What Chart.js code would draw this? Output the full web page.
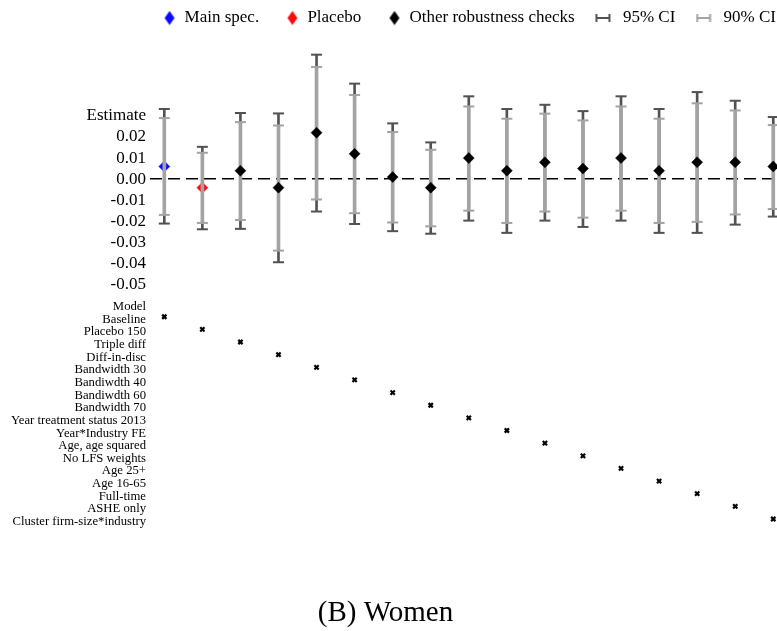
<!DOCTYPE html>
<html>
<head>
<meta charset="utf-8">
<title>(B) Women</title>
<script src="https://cdn.jsdelivr.net/npm/chart.js@4.4.1/dist/chart.umd.min.js"></script>
<style>
  html, body { margin: 0; padding: 0; background: #ffffff; }
  #wrap { position: relative; width: 777px; height: 631px; overflow: hidden; background: #ffffff; }
  #estimates { position: absolute; left: 0; top: 0; width: 777px; height: 309px; }
  #models { position: absolute; left: 0; top: 290px; width: 777px; height: 341px; }
</style>
</head>
<body>
<div id="wrap">
  <canvas id="estimates" width="777" height="309"></canvas>
  <canvas id="models" width="777" height="341"></canvas>
</div>
<script>
// ---- data -------------------------------------------------------------
const rowLabels = [
  'Model', 'Baseline', 'Placebo 150', 'Triple diff', 'Diff-in-disc',
  'Bandwidth 30', 'Bandiwdth 40', 'Bandiwdth 60', 'Bandwidth 70',
  'Year treatment status 2013', 'Year*Industry FE', 'Age, age squared',
  'No LFS weights', 'Age 25+', 'Age 16-65', 'Full-time', 'ASHE only',
  'Cluster firm-size*industry'
];
// which row of the model matrix each specification ticks
const specRows = [1, 2, 3, 4, 5, 6, 7, 8, 9, 10, 11, 12, 13, 14, 15, 16, 17];
const specTypes = ['main', 'placebo', 'other', 'other', 'other', 'other', 'other', 'other',
                   'other', 'other', 'other', 'other', 'other', 'other', 'other', 'other', 'other'];

const estimates = [0.006, -0.004, 0.004, -0.004, 0.022, 0.012, 0.001, -0.004,
                   0.010, 0.004, 0.008, 0.005, 0.010, 0.004, 0.008, 0.008, 0.006];
const ci95Low  = [-0.0210, -0.0237, -0.0235, -0.0393, -0.0153, -0.0212, -0.0246, -0.0258,
                  -0.0196, -0.0254, -0.0196, -0.0226, -0.0196, -0.0254, -0.0254, -0.0215, -0.0177];
const ci95High = [0.0332, 0.0153, 0.0313, 0.0311, 0.0589, 0.0452, 0.0264, 0.0174,
                  0.0392, 0.0332, 0.0352, 0.0322, 0.0392, 0.0332, 0.0412, 0.0371, 0.0294];
const ci90Low  = [-0.0169, -0.0207, -0.0193, -0.0338, -0.0096, -0.0161, -0.0205, -0.0223,
                  -0.0149, -0.0207, -0.0153, -0.0182, -0.0149, -0.0207, -0.0202, -0.0167, -0.0141];
const ci90High = [0.0289, 0.0125, 0.0270, 0.0254, 0.0531, 0.0398, 0.0223, 0.0139,
                  0.0344, 0.0286, 0.0310, 0.0278, 0.0344, 0.0286, 0.0359, 0.0325, 0.0256];

const yTickValues = [-0.05, -0.04, -0.03, -0.02, -0.01, 0, 0.01, 0.02, 0.03];
const yTickLabels = ['-0.05', '-0.04', '-0.03', '-0.02', '-0.01', '0.00', '0.01', '0.02', 'Estimate'];
const legendNames = ['Main spec.', 'Placebo', 'Other robustness checks', '95% CI', '90% CI'];

// ---- styling ----------------------------------------------------------
const SERIF = "'Liberation Serif', 'Times New Roman', Times, serif";
const DARK = '#525252';
const LIGHT = '#a3a3a3';
const typeColor = { main: '#0a0aff', placebo: '#ff0a0a', other: '#000000' };

const X_MIN = 0.6243;
const X_MAX_TOP = 17.098;
const X_MAX_BOTTOM = 16.94;

const specX = estimates.map((_, i) => i + 1);

// legend glyphs: a tall diamond and a |-| interval symbol
function diamondIcon(color) {
  const c = document.createElement('canvas');
  c.width = 14; c.height = 15;
  const g = c.getContext('2d');
  g.fillStyle = color;
  g.beginPath();
  g.moveTo(8, 0.5); g.lineTo(13, 7.5); g.lineTo(8, 14.5); g.lineTo(3, 7.5);
  g.closePath(); g.fill();
  return c;
}
function ciIcon(color) {
  const c = document.createElement('canvas');
  c.width = 24; c.height = 10;
  const g = c.getContext('2d');
  g.strokeStyle = color; g.lineWidth = 2;
  g.beginPath();
  g.moveTo(1.5, 5); g.lineTo(14.5, 5);
  g.moveTo(1.5, 1); g.lineTo(1.5, 9);
  g.moveTo(14.5, 1); g.lineTo(14.5, 9);
  g.stroke();
  return c;
}
const legendIcons = [
  diamondIcon(typeColor.main), diamondIcon(typeColor.placebo), diamondIcon(typeColor.other),
  ciIcon(DARK), ciIcon(LIGHT)
];

function markerPoints(keep) {
  return specX.map((x, i) => ({ x, y: estimates[i], t: specTypes[i] })).filter(p => keep(p.t));
}
function capPoints(lo, hi) {
  const pts = [];
  specX.forEach((x, i) => { pts.push({ x, y: lo[i] }); pts.push({ x, y: hi[i] }); });
  return pts;
}
const headline = markerPoints(t => t !== 'other');
const others = markerPoints(t => t === 'other');

// ---- estimates with confidence intervals --------------------------------
new Chart(document.getElementById('estimates'), {
  type: 'scatter',
  data: {
    datasets: [
      {
        type: 'scatter', label: 'Other robustness checks', data: others,
        pointStyle: 'rectRot', pointRadius: 5.5, borderWidth: 0.5,
        backgroundColor: typeColor.other, borderColor: typeColor.other,
        order: 0, clip: false
      },
      {
        type: 'scatter', label: '95% CI caps', data: capPoints(ci95Low, ci95High),
        pointStyle: 'line', pointRadius: 5.5, borderWidth: 2, borderColor: DARK,
        order: 1, clip: false
      },
      {
        type: 'scatter', label: '90% CI caps', data: capPoints(ci90Low, ci90High),
        pointStyle: 'line', pointRadius: 5.5, borderWidth: 2, borderColor: LIGHT,
        order: 2, clip: false
      },
      {
        type: 'bar', label: '90% CI',
        data: specX.map((x, i) => ({ x, y: [ci90Low[i], ci90High[i]] })),
        backgroundColor: LIGHT, barThickness: 3, grouped: false, borderWidth: 0,
        order: 3, clip: false
      },
      {
        type: 'bar', label: '95% CI',
        data: specX.map((x, i) => ({ x, y: [ci95Low[i], ci95High[i]] })),
        backgroundColor: DARK, barThickness: 2, grouped: false, borderWidth: 0,
        order: 4, clip: false
      },
      {
        type: 'scatter', label: 'Main spec. / Placebo', data: headline,
        pointStyle: 'rectRot', pointRadius: 5.5, borderWidth: 0.5,
        backgroundColor: headline.map(p => typeColor[p.t]),
        borderColor: headline.map(p => typeColor[p.t]),
        order: 5, clip: false
      }
    ]
  },
  options: {
    responsive: false,
    animation: false,
    events: [],
    layout: { autoPadding: false, padding: { top: -15.25, right: -23.75, bottom: 5, left: 0 } },
    plugins: {
      tooltip: { enabled: false },
      legend: {
        display: true,
        position: 'top',
        align: 'end',
        labels: {
          usePointStyle: true,
          pointStyleWidth: 15,
          boxHeight: 10,
          padding: 24.75,
          color: '#000000',
          font: { family: SERIF, size: 17 },
          generateLabels: () => legendNames.map((text, i) => ({
            text,
            pointStyle: legendIcons[i],
            fillStyle: '#000000',
            strokeStyle: '#000000',
            lineWidth: 0,
            hidden: false,
            fontColor: '#000000',
            datasetIndex: 0
          }))
        }
      }
    },
    scales: {
      x: {
        type: 'linear', display: false, offset: false,
        min: X_MIN, max: X_MAX_TOP,
        ticks: { display: false }
      },
      y: {
        type: 'linear',
        min: -0.0547,
        max: 0.0675,
        afterBuildTicks: s => { s.ticks = yTickValues.map(v => ({ value: v })); },
        afterFit: s => { s.width = 150; },
        ticks: {
          autoSkip: false,
          padding: 4,
          color: '#000000',
          font: { family: SERIF, size: 17 },
          callback: (v, i) => yTickLabels[i]
        },
        grid: {
          drawTicks: false,
          lineWidth: 1.4,
          color: c => (c.tick && Math.abs(c.tick.value) < 1e-9) ? '#000000' : 'rgba(0,0,0,0)'
        },
        border: { display: false, dash: [12, 6] }
      }
    }
  }
});

// ---- model matrix ---------------------------------------------------
new Chart(document.getElementById('models'), {
  type: 'scatter',
  data: {
    datasets: [{
      label: 'Model',
      data: specX.map((x, i) => ({ x, y: specRows[i] })),
      pointStyle: 'crossRot',
      pointRadius: 3,
      borderWidth: 2.2,
      borderColor: '#000000',
      backgroundColor: '#000000',
      clip: false
    }]
  },
  options: {
    responsive: false,
    animation: false,
    events: [],
    layout: { autoPadding: false, padding: { top: 14.1, right: 6, bottom: 0, left: 0 } },
    plugins: {
      legend: { display: false },
      tooltip: { enabled: false },
      title: {
        display: true,
        position: 'bottom',
        text: '(B) Women',
        color: '#000000',
        font: { family: SERIF, size: 29, weight: 'normal' },
        padding: { top: 77, bottom: 0.2 }
      }
    },
    scales: {
      x: {
        type: 'linear', display: false, offset: false,
        min: X_MIN, max: X_MAX_BOTTOM,
        ticks: { display: false }
      },
      y: {
        type: 'linear',
        reverse: true,
        min: 0,
        max: rowLabels.length - 1,
        afterBuildTicks: s => { s.ticks = rowLabels.map((_, i) => ({ value: i })); },
        afterFit: s => { s.width = 150; },
        ticks: {
          autoSkip: false,
          padding: 4,
          labelOffset: 2.7,
          color: '#000000',
          font: { family: SERIF, size: 12.7 },
          callback: (v, i) => rowLabels[i]
        },
        grid: { display: false, drawTicks: false },
        border: { display: false }
      }
    }
  }
});
</script>
</body>
</html>
